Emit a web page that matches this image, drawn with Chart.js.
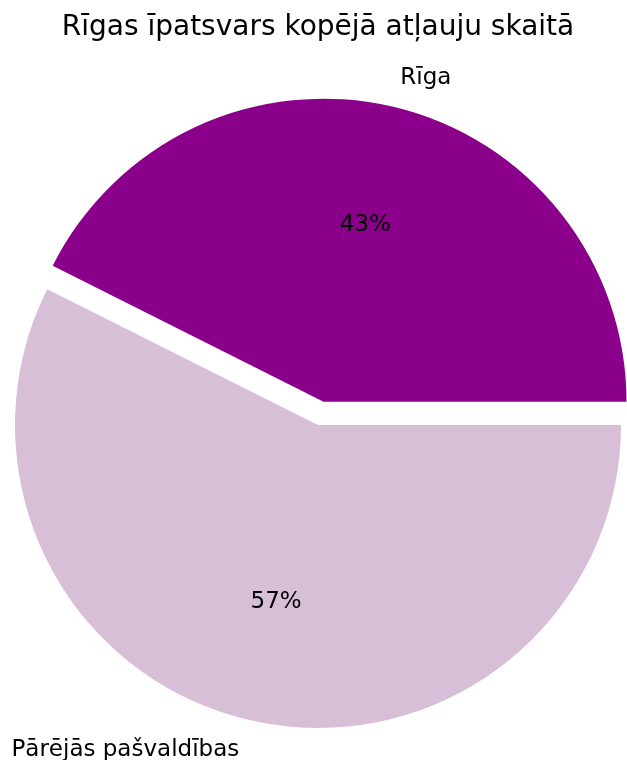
<!DOCTYPE html>
<html>
<head>
<meta charset="utf-8">
<script src="https://cdn.jsdelivr.net/npm/chart.js@4/dist/chart.umd.min.js"></script>
<style>
  body { margin: 0; background: #fff; }
  canvas { display: block; }
</style>
</head>
<body>
<canvas id="pieChart" width="627" height="760"></canvas>
<script>
// Data (shares in %, labels show them rounded)
var labels = ['Pārējās pašvaldības', 'Rīga'];
var values = [57.4, 42.6];
var colors = ['#D8BFD8', '#8B008B'];
var explode = [0, 24]; // pixels the slice is pulled out

var titleText = 'Rīgas īpatsvars kopējā atļauju skaitā';
var fontFamily = '"DejaVu Sans", sans-serif';
var pieRadius = 303;

// Chart.js moves an arc by offset / 4, so scale it up
function arcOffset(ctx) {
  return explode[ctx.dataIndex] * 4;
}

// Title, slice labels and percentages, matplotlib style
var pieText = {
  id: 'pieText',
  afterDatasetUpdate: function (chart, args) {
    // undo the radius growth and angle trim Chart.js gives an offset arc
    var meta = chart.getDatasetMeta(args.index);
    meta.data.forEach(function (arc, i) {
      var off = explode[i];
      if (!off) return;
      var circ = arc.endAngle - arc.startAngle;
      var fix = 1 - Math.sin(Math.min(Math.PI, circ));
      var grow = off * fix;
      arc.outerRadius = arc.outerRadius - grow;
      var trim = (grow / Math.PI) / pieRadius / 2;
      arc.startAngle -= trim;
      arc.endAngle += trim;
    });
  },
  afterDraw: function (chart) {
    var ctx = chart.ctx;
    ctx.save();
    ctx.fillStyle = '#000';
    ctx.textBaseline = 'middle';

    ctx.font = '28px ' + fontFamily;
    ctx.textAlign = 'center';
    ctx.fillText(titleText, 318, 28);

    var meta = chart.getDatasetMeta(0);
    var total = values.reduce(function (a, b) { return a + b; }, 0);
    meta.data.forEach(function (arc, i) {
      var mid = (arc.startAngle + arc.endAngle) / 2;
      var r = pieRadius;
      var cx = arc.x + Math.cos(mid) * explode[i];
      var cy = arc.y + Math.sin(mid) * explode[i];
      var right = Math.cos(mid) > 0;

      ctx.font = '23px ' + fontFamily;
      ctx.textAlign = right ? 'left' : 'right';
      ctx.fillText(labels[i], cx + Math.cos(mid) * r * 1.1 + (right ? 0 : -2),
        cy + Math.sin(mid) * r * 1.1 + 1);

      ctx.textAlign = 'center';
      var pct = Math.round(values[i] / total * 100) + '%';
      ctx.fillText(pct, cx + Math.cos(mid) * r * 0.6, cy + Math.sin(mid) * r * 0.6);
    });
    ctx.restore();
  }
};

var ctx = document.getElementById('pieChart').getContext('2d');

var myChart = new Chart(ctx, {
  type: 'pie',
  data: {
    labels: labels,
    datasets: [{
      data: values,
      backgroundColor: colors,
      borderWidth: 0,
      offset: arcOffset,
      hoverOffset: 0
    }]
  },
  options: {
    responsive: false,
    animation: false,
    rotation: 90,
    radius: pieRadius,
    layout: { padding: { left: 9, right: 0, top: 90, bottom: 0 } },
    plugins: {
      legend: { display: false },
      title: { display: false },
      tooltip: { enabled: false }
    }
  },
  plugins: [pieText]
});
</script>
</body>
</html>
